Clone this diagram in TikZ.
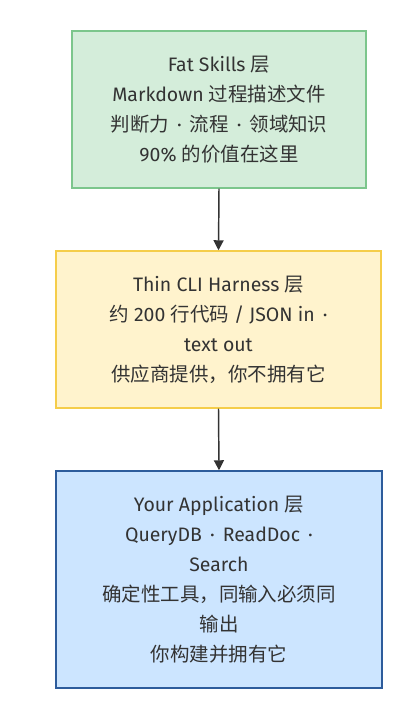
\documentclass[tikz,border=0pt]{standalone}
\usepackage{fontspec}
\setmainfont{Fira Sans}
\newfontfamily\cjk{Noto Sans CJK SC}
\usetikzlibrary{arrows.meta}
\definecolor{gfill}{HTML}{D4EDDA}
\definecolor{gline}{HTML}{7CC68C}
\definecolor{yfill}{HTML}{FFF3CD}
\definecolor{yline}{HTML}{F5CD4A}
\definecolor{bfill}{HTML}{CCE5FF}
\definecolor{bline}{HTML}{2D5C9C}
\definecolor{txt}{HTML}{333333}
\newcommand{\mdot}{\hspace{2.2pt}·\hspace{2.2pt}}
\tikzset{
  layer/.style={draw, line width=1.1pt, inner sep=0pt, align=center, text=txt,
    font=\fontsize{14.6pt}{22.5pt}\selectfont},
  link/.style={draw=txt, line width=1.1pt, -{Triangle[length=7.5pt,width=7.5pt]}}
}
\begin{document}
\begin{tikzpicture}[x=0.75pt,y=-0.75pt]
\useasboundingbox[fill=white] (0,0) rectangle (419,710);
\node[layer, fill=gfill, draw=gline, minimum width=294*0.75pt, minimum height=157*0.75pt] (fat) at (219,109.5)
 {Fat Skills {\cjk 层}\\Markdown {\cjk 过程描述文件}\\{\cjk 判断力} \mdot{} {\cjk 流程} \mdot{} {\cjk 领域知识}\\90\% {\cjk 的价值在这里}};
\node[layer, fill=yfill, draw=yline, minimum width=325*0.75pt, minimum height=157*0.75pt] (thin) at (218.5,329.5)
 {Thin CLI Harness {\cjk 层}\\{\cjk 约} 200 {\cjk 行代码} / JSON in \mdot\\text out\\{\cjk 供应商提供，你不拥有它}};
\node[layer, fill=bfill, draw=bline, minimum width=326*0.75pt, minimum height=217*0.75pt] (app) at (219,579.5)
 {Your Application {\cjk 层}\\QueryDB \mdot{} ReadDoc \mdot\\Search\\{\cjk 确定性工具，同输入必须同}\\{\cjk 输出}\\{\cjk 你构建并拥有它}};
\draw[link] (fat.south) -- (thin.north);
\draw[link] (thin.south) -- (app.north);
\end{tikzpicture}
\end{document}
